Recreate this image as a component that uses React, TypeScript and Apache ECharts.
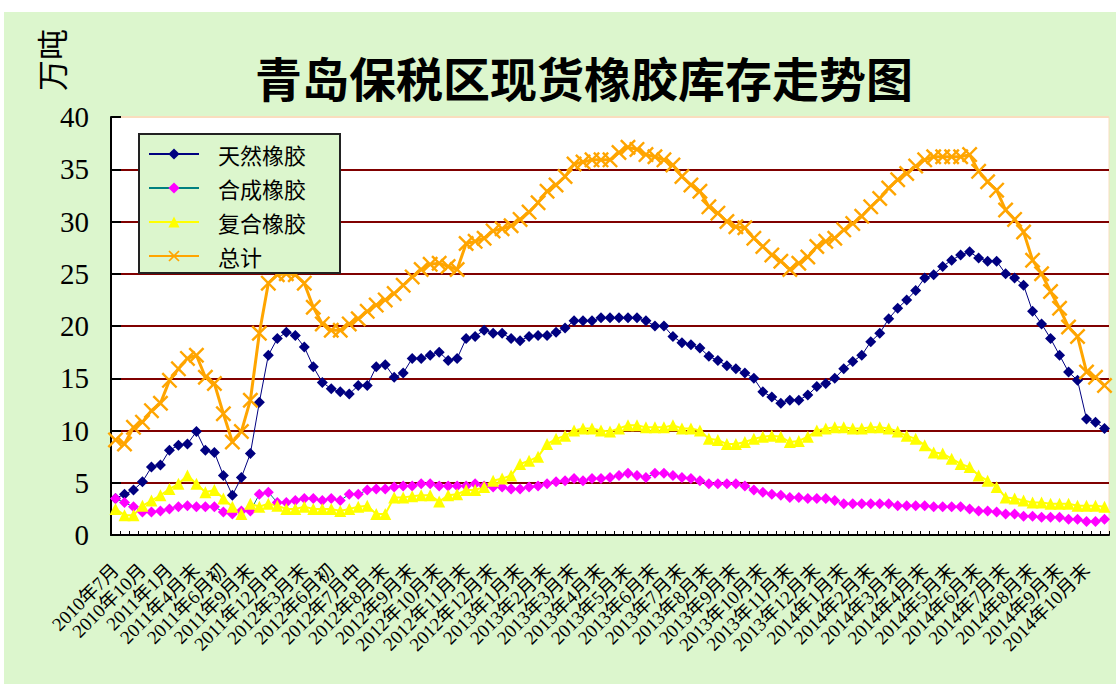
import React, { useEffect, useRef } from "react";
import * as echarts from "echarts";

const categories: string[] = [
  "2010年7月", "2010年8月", "2010年9月", "2010年10月", "2010年11月", "2010年12月",
  "2011年1月", "2011年2月", "2011年3月", "2011年4月末", "2011年5月初", "2011年5月末",
  "2011年6月初", "2011年7月末", "2011年8月末", "2011年9月末", "2011年10月末", "2011年11月末",
  "2011年12月中", "2012年1月末", "2012年2月末", "2012年3月末", "2012年4月末", "2012年5月中",
  "2012年6月初", "2012年6月末", "2012年7月初", "2012年7月中", "2012年8月初", "2012年8月中",
  "2012年8月末",
  "2012年9月初", "2012年9月中", "2012年9月末", "2012年10月初", "2012年10月中", "2012年10月末",
  "2012年11月初", "2012年11月中", "2012年11月末", "2012年12月初", "2012年12月中", "2012年12月末",
  "2013年1月初", "2013年1月中", "2013年1月末", "2013年2月初", "2013年2月中", "2013年2月末",
  "2013年3月初", "2013年3月中", "2013年3月末", "2013年4月初", "2013年4月中", "2013年4月末",
  "2013年5月初", "2013年5月中", "2013年5月末", "2013年6月初", "2013年6月中", "2013年6月末",
  "2013年7月初", "2013年7月中", "2013年7月末", "2013年8月初", "2013年8月中", "2013年8月末",
  "2013年9月初", "2013年9月中", "2013年9月末", "2013年10月初", "2013年10月中", "2013年10月末",
  "2013年11月初", "2013年11月中", "2013年11月末", "2013年12月初", "2013年12月中", "2013年12月末",
  "2014年1月初", "2014年1月中", "2014年1月末", "2014年2月初", "2014年2月中", "2014年2月末",
  "2014年3月初", "2014年3月中", "2014年3月末", "2014年4月初", "2014年4月中", "2014年4月末",
  "2014年5月初", "2014年5月中", "2014年5月末", "2014年6月初", "2014年6月中", "2014年6月末",
  "2014年7月初", "2014年7月中", "2014年7月末", "2014年8月初", "2014年8月中", "2014年8月末",
  "2014年9月初", "2014年9月中", "2014年9月末", "2014年10月初", "2014年10月中", "2014年10月末",
  "2014年11月初", "2014年11月中",
];

const natural: number[] = [
  3.5, 3.9, 4.3, 5.1, 6.5, 6.7, 8.1, 8.6, 8.7, 9.9,
  8.1, 7.9, 5.7, 3.8, 5.5, 7.8, 12.7, 17.2, 18.8, 19.4,
  19.1, 18.0, 16.1, 14.6, 14.0, 13.7, 13.5, 14.3, 14.3, 16.1,
  16.3, 15.1, 15.5, 16.9, 16.9, 17.2, 17.5, 16.7, 16.9, 18.8,
  19.0, 19.6, 19.3, 19.3, 18.8, 18.6, 19.0, 19.1, 19.1, 19.4,
  19.8, 20.5, 20.5, 20.5, 20.8, 20.8, 20.8, 20.8, 20.8, 20.5,
  20.0, 20.0, 19.0, 18.4, 18.2, 17.9, 17.1, 16.7, 16.2, 15.9,
  15.5, 15.0, 13.7, 13.2, 12.6, 12.9, 12.9, 13.4, 14.2, 14.5,
  15.0, 15.9, 16.6, 17.2, 18.5, 19.3, 20.7, 21.7, 22.5, 23.4,
  24.6, 24.9, 25.7, 26.3, 26.8, 27.1, 26.5, 26.2, 26.2, 25.0,
  24.6, 23.9, 21.4, 20.2, 18.8, 17.2, 15.6, 14.8, 11.1, 10.8, 10.2,
];

const synthetic: number[] = [
  3.5, 3.1, 2.7, 2.2, 2.2, 2.3, 2.5, 2.7, 2.8, 2.7,
  2.7, 2.7, 2.2, 2.0, 2.3, 2.3, 3.9, 4.1, 3.1, 3.1,
  3.3, 3.5, 3.5, 3.3, 3.5, 3.3, 3.9, 3.9, 4.3, 4.4,
  4.4, 4.6, 4.7, 4.7, 4.9, 4.9, 4.7, 4.7, 4.7, 4.7,
  4.9, 4.7, 4.6, 4.6, 4.4, 4.4, 4.6, 4.7, 4.9, 5.1,
  5.2, 5.4, 5.2, 5.4, 5.4, 5.5, 5.7, 5.9, 5.7, 5.5,
  5.9, 5.9, 5.7, 5.5, 5.4, 5.2, 4.9, 4.9, 4.9, 4.9,
  4.7, 4.3, 4.1, 3.9, 3.8, 3.6, 3.6, 3.5, 3.5, 3.5,
  3.3, 3.0, 3.0, 3.0, 3.0, 3.0, 3.0, 2.8, 2.8, 2.8,
  2.8, 2.7, 2.7, 2.7, 2.7, 2.5, 2.3, 2.3, 2.2, 2.0,
  2.0, 1.8, 1.8, 1.7, 1.7, 1.7, 1.5, 1.5, 1.3, 1.3, 1.5,
];

const composite: number[] = [
  2.5, 1.9, 1.9, 2.8, 3.3, 3.8, 4.4, 4.9, 5.7, 4.9,
  4.1, 4.3, 3.5, 2.7, 2.0, 3.0, 2.7, 3.0, 2.8, 2.5,
  2.5, 2.7, 2.5, 2.5, 2.5, 2.3, 2.5, 2.7, 2.8, 2.0,
  2.0, 3.6, 3.6, 3.7, 3.8, 3.8, 3.2, 3.8, 3.9, 4.3,
  4.3, 4.6, 5.2, 5.4, 5.7, 6.8, 7.1, 7.5, 8.7, 9.2,
  9.5, 10.0, 10.2, 10.2, 10.0, 9.9, 10.2, 10.5, 10.5, 10.3,
  10.3, 10.3, 10.5, 10.2, 10.2, 10.0, 9.2, 9.1, 8.7, 8.7,
  8.9, 9.2, 9.4, 9.5, 9.4, 8.9, 9.0, 9.4, 10.0, 10.2,
  10.3, 10.3, 10.2, 10.2, 10.3, 10.3, 10.2, 9.9, 9.5, 9.2,
  8.6, 7.9, 7.8, 7.3, 6.8, 6.5, 5.7, 5.2, 4.6, 3.6,
  3.5, 3.3, 3.1, 3.1, 3.0, 3.0, 3.0, 2.8, 2.8, 2.8, 2.7,
];

const total: number[] = [
  9.1, 8.7, 10.3, 10.8, 11.9, 12.6, 14.8, 15.9, 16.9, 17.2,
  15.1, 14.5, 11.6, 8.9, 9.9, 12.9, 19.3, 24.1, 24.9, 25.0,
  24.9, 24.1, 21.8, 20.2, 19.6, 19.6, 20.2, 20.7, 21.4, 22.0,
  22.5, 23.1, 23.9, 24.7, 25.4, 25.9, 26.0, 25.7, 25.4, 27.9,
  28.1, 28.4, 29.1, 29.3, 29.6, 30.2, 30.9, 31.8, 32.9, 33.5,
  34.3, 35.5, 35.7, 35.9, 35.9, 35.9, 36.6, 37.1, 36.9, 36.4,
  36.2, 35.9, 35.4, 34.3, 33.5, 32.9, 31.4, 30.8, 30.0, 29.5,
  29.4, 28.4, 27.6, 26.8, 26.2, 25.4, 26.0, 26.6, 27.6, 28.1,
  28.4, 29.2, 29.8, 30.5, 31.4, 32.2, 33.2, 34.0, 34.6, 35.3,
  35.9, 36.2, 36.2, 36.2, 36.2, 36.4, 34.8, 33.8, 33.0, 31.1,
  30.2, 29.0, 26.3, 25.0, 23.3, 21.7, 19.9, 19.0, 15.6, 15.1, 14.3,
];

const seriesNames = ["天然橡胶", "合成橡胶", "复合橡胶", "总计"];
const titleText = "青岛保税区现货橡胶库存走势图";
const unitText = "万吨";

const BG = "#DCF6CD";
const CROSS =
  "path://M0,1.5L1.5,0L7,5.5L12.5,0L14,1.5L8.5,7L14,12.5L12.5,14L7,8.5L1.5,14L0,12.5L5.5,7Z";

export default function App() {
  const ref = useRef<HTMLDivElement>(null);
  useEffect(() => {
    if (!ref.current) return;
    const chart = echarts.init(ref.current, null, { renderer: "svg" });
    const serif = "'Liberation Serif', 'Noto Sans CJK SC', serif";
    chart.setOption({
      animation: false,
      backgroundColor: BG,
      title: {
        text: titleText,
        left: 246,
        top: 36,
        textStyle: {
          fontFamily: "'Noto Sans CJK SC', sans-serif",
          fontSize: 47,
          fontWeight: "bold",
          color: "#000",
        },
      },
      graphic: [
        {
          type: "text",
          x: 46,
          y: 48,
          rotation: Math.PI / 2,
          style: {
            text: unitText,
            fontFamily: "'Noto Sans CJK SC', serif",
            fontSize: 31,
            fill: "#000",
            align: "center",
            verticalAlign: "middle",
          },
        },
      ],
      legend: {
        orient: "vertical",
        left: 135,
        top: 122,
        data: seriesNames,
        itemWidth: 50,
        itemHeight: 14,
        itemGap: 12,
        padding: [9, 34, 6, 9],
        backgroundColor: BG,
        borderColor: "#222",
        borderWidth: 2,
        borderRadius: 0,
        textStyle: {
          fontFamily: "'Noto Sans CJK SC', sans-serif",
          fontSize: 22,
          color: "#000",
          padding: [0, 0, 0, 14],
        },
      },
      grid: {
        left: 107,
        top: 105,
        width: 998,
        height: 418,
        show: true,
        backgroundColor: "#fff",
        borderColor: "#F9DDBE",
        borderWidth: 1,
      },
      xAxis: {
        type: "category",
        data: categories,
        boundaryGap: true,
        axisLine: { show: true, lineStyle: { color: "#000", width: 2 } },
        axisTick: {
          show: true,
          inside: true,
          length: 4,
          interval: 0,
          lineStyle: { color: "#000", width: 1 },
        },
        axisLabel: {
          interval: 2,
          rotate: 45,
          margin: 32,
          fontSize: 19,
          fontFamily: serif,
          color: "#000",
        },
        splitLine: { show: false },
      },
      yAxis: {
        type: "value",
        min: 0,
        max: 40,
        interval: 5,
        axisLine: { show: true, lineStyle: { color: "#000", width: 2 } },
        axisTick: { show: true, inside: true, length: 10, lineStyle: { color: "#000", width: 2 } },
        axisLabel: {
          fontSize: 29,
          fontFamily: serif,
          color: "#000",
          margin: 22,
        },
        splitLine: {
          show: true,
          lineStyle: {
            color: ["#800000", "#800000", "#800000", "#800000", "#800000", "#800000", "#800000", "#800000", "#F9DDBE"],
            width: 2,
          },
        },
      },
      series: [
        {
          name: seriesNames[0],
          type: "line",
          data: natural,
          symbol: "diamond",
          symbolSize: 11,
          showAllSymbol: true,
          lineStyle: { color: "#000080", width: 1 },
          itemStyle: { color: "#000080" },
        },
        {
          name: seriesNames[1],
          type: "line",
          data: synthetic,
          symbol: "diamond",
          symbolSize: 11,
          showAllSymbol: true,
          lineStyle: { color: "#008080", width: 1 },
          itemStyle: { color: "#FF00FF" },
        },
        {
          name: seriesNames[2],
          type: "line",
          data: composite,
          symbol: "triangle",
          symbolSize: 12,
          showAllSymbol: true,
          lineStyle: { color: "#FFFF00", width: 2 },
          itemStyle: { color: "#FFFF00" },
        },
        {
          name: seriesNames[3],
          type: "line",
          data: total,
          symbol: CROSS,
          symbolSize: 16,
          showAllSymbol: true,
          lineStyle: { color: "#FFA500", width: 3 },
          itemStyle: { color: "#FFA500" },
        },
      ],
    });
    return () => chart.dispose();
  }, []);
  return (
    <div
      style={{
        position: "fixed",
        left: 0,
        top: 0,
        width: 1116,
        height: 684,
        background: "#fff",
      }}
    >
      <div
        ref={ref}
        style={{ position: "absolute", left: 4, top: 12, width: 1112, height: 672 }}
      />
    </div>
  );
}
